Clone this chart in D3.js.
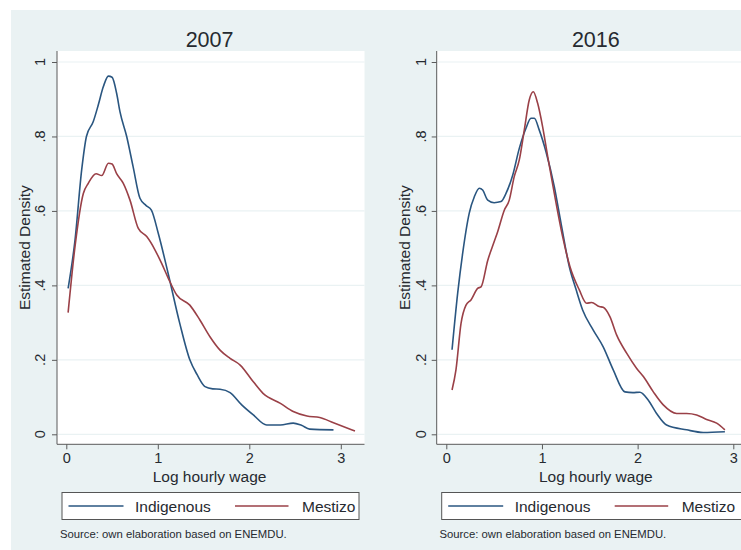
<!DOCTYPE html>
<html>
<head>
<meta charset="utf-8">
<script src="https://cdn.jsdelivr.net/npm/d3@7"></script>
<style>
  html, body { margin: 0; padding: 0; background: #ffffff; }
  svg { display: block; font-family: "Liberation Sans", Arial, sans-serif; }
</style>
</head>
<body>
<svg id="chart" width="741" height="550"></svg>
<script>
// ---- Data ----
const panelTitles = ["2007", "2016"];
const seriesNames = ["Indigenous", "Mestizo"];
const yTickValues = [0, 0.2, 0.4, 0.6, 0.8, 1];
const yTickLabels = ["0", ".2", ".4", ".6", ".8", "1"];
const xTickValues = [0, 1, 2, 3];
const xTickLabels = ["0", "1", "2", "3"];

// 2007
const indig2007X = [0.02,0.095,0.168,0.22,0.295,0.35,0.405,0.46,0.50,0.55,0.587,0.66,0.73,0.805,0.87,0.93,1.005,1.115,1.24,1.35,1.43,1.516,1.6,1.68,1.79,1.917,2.044,2.19,2.34,2.48,2.57,2.66,2.92];
const indig2007Y = [0.392,0.521,0.71,0.80,0.84,0.885,0.934,0.962,0.959,0.916,0.866,0.80,0.719,0.634,0.615,0.602,0.54,0.43,0.298,0.20,0.16,0.128,0.122,0.121,0.112,0.079,0.052,0.025,0.025,0.030,0.024,0.014,0.012];
const mest2007X = [0.02,0.095,0.186,0.24,0.325,0.387,0.46,0.50,0.55,0.623,0.696,0.787,0.879,0.97,1.042,1.115,1.207,1.35,1.46,1.57,1.68,1.79,1.90,2.044,2.15,2.34,2.48,2.63,2.77,2.92,3.155];
const mest2007Y = [0.327,0.504,0.647,0.674,0.70,0.695,0.728,0.726,0.70,0.674,0.629,0.553,0.531,0.495,0.459,0.419,0.374,0.347,0.307,0.262,0.226,0.204,0.186,0.141,0.110,0.083,0.061,0.049,0.045,0.031,0.009];

// 2016
const indig2016X = [0.06,0.119,0.171,0.24,0.293,0.345,0.38,0.433,0.50,0.572,0.624,0.694,0.763,0.833,0.885,0.92,0.972,1.042,1.129,1.199,1.286,1.355,1.425,1.536,1.64,1.745,1.867,1.95,2.024,2.11,2.198,2.303,2.512,2.686,2.912];
const indig2016Y = [0.227,0.379,0.486,0.594,0.638,0.661,0.656,0.629,0.622,0.625,0.647,0.696,0.768,0.822,0.849,0.849,0.817,0.759,0.665,0.567,0.45,0.39,0.334,0.28,0.235,0.173,0.114,0.112,0.113,0.092,0.056,0.025,0.012,0.005,0.007];
const mest2016X = [0.06,0.101,0.154,0.206,0.258,0.328,0.363,0.433,0.50,0.537,0.606,0.658,0.71,0.763,0.815,0.867,0.909,0.955,1.007,1.06,1.129,1.216,1.293,1.39,1.467,1.519,1.599,1.64,1.71,1.78,1.885,1.99,2.06,2.164,2.268,2.408,2.512,2.617,2.721,2.826,2.912];
const mest2016Y = [0.119,0.173,0.298,0.347,0.361,0.392,0.396,0.467,0.517,0.544,0.602,0.629,0.692,0.737,0.817,0.898,0.92,0.889,0.826,0.746,0.647,0.531,0.45,0.388,0.352,0.354,0.343,0.341,0.316,0.267,0.218,0.177,0.155,0.114,0.079,0.056,0.056,0.052,0.040,0.030,0.012];

const sourceText = "Source: own elaboration based on ENEMDU.";
const xAxisTitle = "Log hourly wage";
const yAxisTitle = "Estimated Density";

// ---- Styles ----
const colors = ["#2a5680", "#9a4047"];
const bg = "#eaf2f3";
const gridColor = "#eaf2f3";
const axisColor = "#5a5a5a";
const textColor = "#262a30";

const svg = d3.select("#chart");
svg.append("rect").attr("x", 11).attr("y", 10).attr("width", 730).attr("height", 540).attr("fill", bg);

const zip = (xs, ys) => xs.map((x, i) => ({x: x, y: ys[i]}));

const panels = [
  { title: panelTitles[0], plotL: 57, plotR: 364.5, x0: 66.3, x3: 340.8, ytickX: 45, yTitleX: 30, legL: 62, legR: 359, srcX: 60,
    series: [zip(indig2007X, indig2007Y), zip(mest2007X, mest2007Y)] },
  { title: panelTitles[1], plotL: 436.7, plotR: 745, x0: 446.3, x3: 733.3, ytickX: 426, yTitleX: 410, legL: 441.7, legR: 745, srcX: 439.5,
    series: [zip(indig2016X, indig2016Y), zip(mest2016X, mest2016Y)] }
];

const plotTop = 51, plotBottom = 444.3;

panels.forEach(p => {
  const g = svg.append("g");
  const x = d3.scaleLinear().domain([0, 3]).range([p.x0, p.x3]);
  const y = d3.scaleLinear().domain([0, 1]).range([434.3, 62]);

  g.append("rect").attr("x", p.plotL).attr("y", plotTop)
    .attr("width", p.plotR - p.plotL).attr("height", plotBottom - plotTop).attr("fill", "#ffffff");

  // gridlines
  g.selectAll(".grid").data(yTickValues).enter().append("line")
    .attr("x1", p.plotL + 1).attr("x2", p.plotR)
    .attr("y1", d => y(d)).attr("y2", d => y(d))
    .attr("stroke", gridColor).attr("stroke-width", 1.2);

  // lines
  const line = d3.line().x(d => x(d.x)).y(d => y(d.y)).curve(d3.curveMonotoneX);
  p.series.forEach((s, i) => {
    g.append("path").datum(s).attr("d", line)
      .attr("fill", "none").attr("stroke", colors[i]).attr("stroke-width", 1.6)
      .attr("stroke-linejoin", "round");
  });

  // y axis
  const yAxis = d3.axisLeft(y).tickValues(yTickValues).tickFormat((d, i) => yTickLabels[i]).tickSize(5).tickSizeOuter(0);
  const ya = g.append("g").attr("transform", `translate(${p.plotL},0)`).call(yAxis);
  ya.select(".domain").attr("d", `M0,${plotTop}V${plotBottom}`).attr("stroke", axisColor);
  ya.selectAll(".tick line").attr("stroke", axisColor);
  ya.selectAll(".tick text").remove();
  g.selectAll(".ytl").data(yTickValues).enter().append("text")
    .attr("transform", d => `translate(${p.ytickX},${y(d)}) rotate(-90)`)
    .attr("text-anchor", "middle").attr("font-size", 14.5).attr("fill", textColor)
    .text((d, i) => yTickLabels[i]);

  // x axis
  const xAxis = d3.axisBottom(x).tickValues(xTickValues).tickFormat((d, i) => xTickLabels[i]).tickSize(5).tickSizeOuter(0);
  const xa = g.append("g").attr("transform", `translate(0,${plotBottom})`).call(xAxis);
  xa.select(".domain").attr("d", `M${p.plotL},0H${p.plotR}`).attr("stroke", axisColor);
  xa.selectAll(".tick line").attr("stroke", axisColor);
  xa.selectAll(".tick text").attr("font-size", 14.5).attr("fill", textColor).attr("font-family", "Liberation Sans, Arial, sans-serif").attr("y", 8);

  // titles
  g.append("text").attr("x", (p.x0 + p.x3) / 2 + 6).attr("y", 47).attr("text-anchor", "middle")
    .attr("font-size", 21.5).attr("fill", textColor).text(p.title);
  g.append("text").attr("x", (p.x0 + p.x3) / 2 + 6).attr("y", 481.5).attr("text-anchor", "middle")
    .attr("font-size", 15.5).attr("fill", textColor).text(xAxisTitle);
  g.append("text").attr("transform", `translate(${p.yTitleX},${(plotTop + plotBottom) / 2}) rotate(-90)`)
    .attr("text-anchor", "middle").attr("font-size", 15.5).attr("fill", textColor).text(yAxisTitle);

  // legend
  g.append("rect").attr("x", p.legL).attr("y", 492.5).attr("width", p.legR - p.legL).attr("height", 27)
    .attr("fill", "#ffffff").attr("stroke", "#555555").attr("stroke-width", 1);
  const offs = [[6.5, 61.5, 73], [173, 226.5, 240]];
  seriesNames.forEach((nm, i) => {
    g.append("line").attr("x1", p.legL + offs[i][0]).attr("x2", p.legL + offs[i][1])
      .attr("y1", 506).attr("y2", 506).attr("stroke", colors[i]).attr("stroke-width", 1.6);
    g.append("text").attr("x", p.legL + offs[i][2]).attr("y", 512).attr("font-size", 15.5)
      .attr("fill", textColor).text(nm);
  });

  // source
  g.append("text").attr("x", p.srcX).attr("y", 537.5).attr("font-size", 11.3).attr("fill", textColor).text(sourceText);
});
</script>
</body>
</html>
